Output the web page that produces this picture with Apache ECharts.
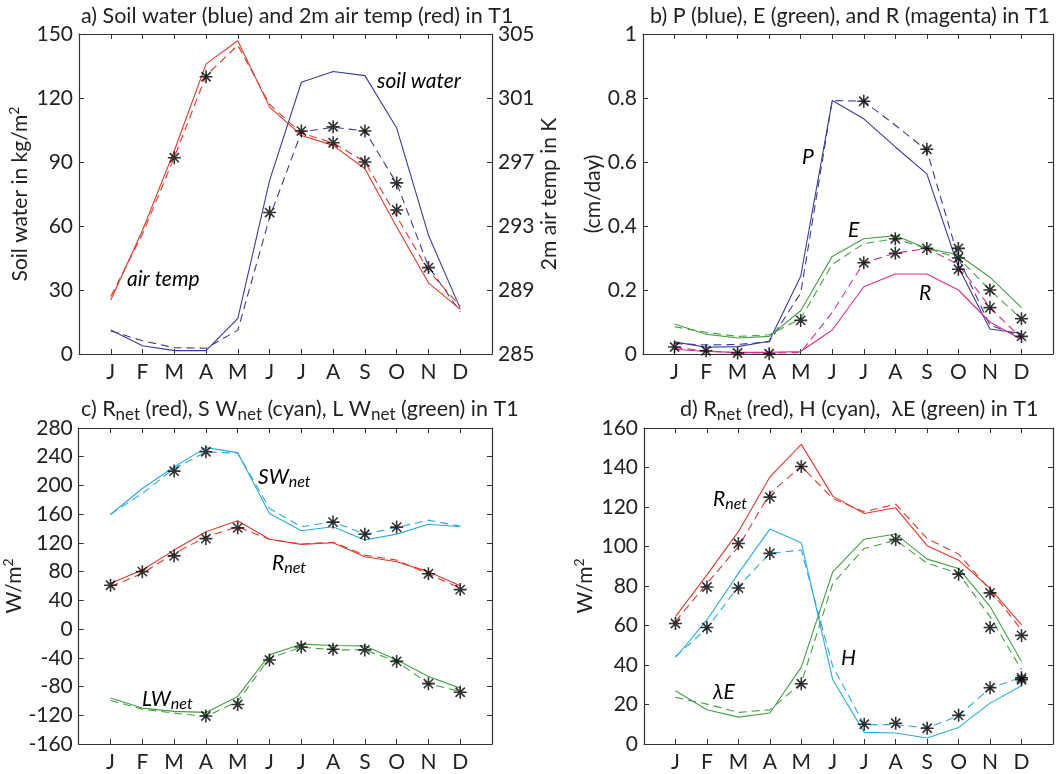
<!DOCTYPE html>
<html>
<head>
<meta charset="utf-8">
<script src="https://cdn.jsdelivr.net/npm/echarts@6/dist/echarts.min.js"></script>
<style>
  html, body { margin: 0; padding: 0; background: #fff; }
  #chart { width: 1056px; height: 774px; }
</style>
</head>
<body>
<div id="chart"></div>
<script>
const months = ['J', 'F', 'M', 'A', 'M', 'J', 'J', 'A', 'S', 'O', 'N', 'D'];

// a) soil water (kg/m2, left axis) and 2m air temp (K, right axis)
const soilSolid = [11.2, 3.9, 1.6, 1.6, 16.7, 81.4, 127.4, 132.4, 130.5, 105.9, 55.7, 21.4];
const soilDashed = [10.8, 6.2, 3.0, 2.7, 11.2, 64, 104, 106.3, 104.5, 80, 41, 19.8];
const soilStars = [null, null, null, null, null, 66.3, 104.5, 106.5, 104.5, 80.2, null, null];
const tempSolid = [288.37, 292.73, 297.7, 303.13, 304.58, 300.43, 298.66, 298.04, 296.58, 292.94, 289.45, 287.79];
const tempDashed = [288.6, 292.5, 297.3, 302.4, 304.3, 300.6, 298.8, 298.2, 297.0, 293.6, 290.2, 288.0];
const tempStars = [null, null, 297.27, 302.33, null, null, null, 298.2, 297.0, 294.0, 290.4, null];
const soilTicks = [0, 30, 60, 90, 120, 150];
const tempTicks = [285, 289, 293, 297, 301, 305];

// b) P, E, R in cm/day
const pSolid = [0.038, 0.021, 0.023, 0.04, 0.243, 0.792, 0.735, 0.647, 0.563, 0.272, 0.078, 0.064];
const pDashed = [0.033, 0.028, 0.030, 0.038, 0.19, 0.792, 0.79, 0.715, 0.636, 0.30, 0.09, 0.055];
const eSolid = [0.094, 0.062, 0.05, 0.055, 0.135, 0.305, 0.36, 0.37, 0.33, 0.31, 0.24, 0.145];
const eDashed = [0.085, 0.068, 0.055, 0.06, 0.11, 0.28, 0.345, 0.36, 0.33, 0.30, 0.20, 0.11];
const rSolid = [0.015, 0.008, 0.005, 0.005, 0.008, 0.075, 0.21, 0.25, 0.25, 0.20, 0.10, 0.045];
const rDashed = [0.02, 0.01, 0.003, 0.003, 0.005, 0.13, 0.285, 0.315, 0.33, 0.28, 0.145, 0.05];
const pStars = [0.022, 0.01, 0.003, 0.001, 0.105, null, 0.79, null, 0.64, 0.265, null, 0.055];
const eStars = [null, null, null, null, null, null, null, 0.36, 0.33, 0.33, 0.2, 0.11];
const rStars = [null, null, null, null, null, null, 0.285, 0.315, null, 0.30, 0.145, null];
const precipTicks = [0, 0.2, 0.4, 0.6, 0.8, 1];

// c) Rnet, SWnet, LWnet in W/m2
const swSolid = [159.6, 195.7, 225.8, 252.7, 245.7, 161, 136.9, 142.4, 124, 132.2, 146, 142.4];
const swDashed = [160, 188.8, 223.5, 246.7, 245, 168, 142.4, 149.4, 132.2, 141.5, 151.7, 143.4];
const swStars = [null, null, 220, 247, null, null, null, 149, 132, 142, null, null];
const rnetSolidC = [63.7, 82.2, 110, 135.5, 150.8, 125, 118, 120.2, 100.7, 93.8, 80, 60.5];
const rnetDashedC = [59, 77.6, 105.4, 128.5, 142.4, 125, 118.4, 121, 103, 96, 76.7, 57];
const rnetStarsC = [61, 80, 102, 126, 141, null, null, null, null, null, 77, 55];
const lwSolid = [-96, -110, -114.6, -116, -93.8, -35.9, -21, -22.9, -23.4, -42.8, -66, -82.2];
const lwDashed = [-99.3, -111.4, -117, -121.6, -100.7, -40.5, -25.2, -28.9, -29, -45, -76, -86.8];
const lwStars = [null, null, null, -121, -105, -43, -25, -28, -29, -45, -76, -88];
const radTicks = [-160, -120, -80, -40, 0, 40, 80, 120, 160, 200, 240, 280];

// d) Rnet, H, lambda E in W/m2
const rnetSolidD = [64.5, 85.6, 107.5, 135.2, 151.7, 125.5, 116.7, 119.6, 100.4, 93.1, 78.8, 60.3];
const rnetDashedD = [62, 81.3, 99.9, 126.8, 140.6, 124.3, 117.6, 121.4, 104, 96.2, 78, 57.8];
const rnetStarsD = [61, 79.5, 101.5, 125, 140.5, null, null, null, null, null, 76.5, 55];
const hSolid = [43.8, 62.8, 86.4, 108.8, 101.9, 32.5, 5.9, 5.6, 3, 8.4, 20.7, 29.5];
const hDashed = [44.3, 58.6, 79.7, 96.5, 98.2, 39.2, 9.8, 9.8, 8.1, 14.3, 28.3, 33.7];
const hStars = [null, 59, 79, 96.5, null, null, 10, 10.5, 8, 14.5, 28.5, 33.5];
const leSolid = [27, 17.3, 13.6, 15.7, 38.9, 87.2, 103.7, 106.3, 93.6, 88.9, 69.6, 41.8];
const leDashed = [23.6, 20.2, 16, 17.3, 30.8, 81.3, 99, 103.2, 91.5, 86.4, 64.5, 37.6];
const leStars = [null, null, null, null, 30.5, null, null, 103.5, null, 86, 59, 32.5];
const fluxTicks = [0, 20, 40, 60, 80, 100, 120, 140, 160];

const BLUE = '#3a3d98';
const RED = '#dd3a2e';
const GREEN = '#46a046';
const CYAN = '#2ea8df';
const MAGENTA = '#d8308f';
const AXIS = '#333';
const FONT = 'Lato';
const TXT = '#222';
const FS = 21;

const STAR = 'path://M0,-10L0,10M-10,0L10,0M-7.1,-7.1L7.1,7.1M-7.1,7.1L7.1,-7.1';

function pts(vals) {
  return vals.map((v, i) => (v == null ? null : [i + 1, v])).filter(Boolean);
}

function line(vals, color, dashed, axis) {
  return {
    type: 'line',
    xAxisIndex: axis[0],
    yAxisIndex: axis[1],
    data: pts(vals),
    symbol: 'none',
    silent: true,
    lineStyle: { color: color, width: 1.1, type: dashed ? [8, 5] : 'solid' },
    z: 3
  };
}

function stars(vals, axis) {
  return {
    type: 'scatter',
    xAxisIndex: axis[0],
    yAxisIndex: axis[1],
    data: pts(vals),
    symbol: STAR,
    symbolSize: 13,
    symbolKeepAspect: true,
    silent: true,
    itemStyle: { color: '#000', borderColor: '#000', borderWidth: 1.6 },
    z: 5
  };
}

const grids = [
  { left: 79, top: 34, width: 413, height: 320 },
  { left: 643, top: 34, width: 413, height: 320 },
  { left: 78, top: 428, width: 414, height: 316 },
  { left: 644, top: 428, width: 413, height: 316 }
];

const xAxes = [];
grids.forEach((g, gi) => {
  ['bottom', 'top'].forEach((pos) => {
    xAxes.push({
      type: 'value',
      gridIndex: gi,
      position: pos,
      min: 0,
      max: 13,
      interval: 1,
      axisLine: { show: true, onZero: false, lineStyle: { color: AXIS, width: 1.2 } },
      axisTick: { show: true, inside: true, length: 5, lineStyle: { color: AXIS } },
      splitLine: { show: false },
      axisLabel: {
        show: pos === 'bottom',
        margin: 8,
        fontSize: FS,
        fontFamily: FONT,
        color: TXT,
        formatter: (v) => months[v - 1] || ''
      }
    });
  });
});

const nameRich = {
  n: { fontSize: FS, fontFamily: FONT, color: TXT },
  sup: { fontSize: 14, fontFamily: FONT, color: TXT, padding: [0, 0, 12, 0] }
};

function yAxis(gi, pos, ticks, labels, name, nameGap, fmt) {
  return {
    type: 'value',
    gridIndex: gi,
    position: pos,
    min: ticks[0],
    max: ticks[ticks.length - 1],
    interval: ticks[1] - ticks[0],
    name: name,
    nameLocation: 'middle',
    nameGap: nameGap,
    nameRotate: 90,
    nameTextStyle: { fontSize: FS, fontFamily: FONT, color: TXT, rich: nameRich },
    axisLine: { show: true, onZero: false, lineStyle: { color: AXIS, width: 1.2 } },
    axisTick: { show: true, inside: true, length: 5, lineStyle: { color: AXIS } },
    splitLine: { show: false },
    axisLabel: { show: labels, margin: 6, fontSize: FS, fontFamily: FONT, color: TXT, formatter: fmt }
  };
}

const yAxes = [
  yAxis(0, 'left', soilTicks, true, '{n|Soil water in kg/m}{sup|2}', 46),
  yAxis(0, 'right', tempTicks, true, '{n|2m air temp in K}', 46),
  yAxis(1, 'left', precipTicks, true, '{n|(cm/day)}', 38, (v) => String(+v.toFixed(1))),
  yAxis(1, 'right', precipTicks, false, ''),
  yAxis(2, 'left', radTicks, true, '{n|W/m}{sup|2}', 47),
  yAxis(2, 'right', radTicks, false, ''),
  yAxis(3, 'left', fluxTicks, true, '{n|W/m}{sup|2}', 46),
  yAxis(3, 'right', fluxTicks, false, '')
];

const series = [
  // a
  line(soilSolid, BLUE, false, [0, 0]),
  line(soilDashed, BLUE, true, [0, 0]),
  line(tempSolid, RED, false, [0, 1]),
  line(tempDashed, RED, true, [0, 1]),
  stars(soilStars, [0, 0]),
  stars(tempStars, [0, 1]),
  // b
  line(pSolid, BLUE, false, [2, 2]),
  line(pDashed, BLUE, true, [2, 2]),
  line(eSolid, GREEN, false, [2, 2]),
  line(eDashed, GREEN, true, [2, 2]),
  line(rSolid, MAGENTA, false, [2, 2]),
  line(rDashed, MAGENTA, true, [2, 2]),
  stars(pStars, [2, 2]),
  stars(eStars, [2, 2]),
  stars(rStars, [2, 2]),
  // c
  line(swSolid, CYAN, false, [4, 4]),
  line(swDashed, CYAN, true, [4, 4]),
  line(rnetSolidC, RED, false, [4, 4]),
  line(rnetDashedC, RED, true, [4, 4]),
  line(lwSolid, GREEN, false, [4, 4]),
  line(lwDashed, GREEN, true, [4, 4]),
  stars(swStars, [4, 4]),
  stars(rnetStarsC, [4, 4]),
  stars(lwStars, [4, 4]),
  // d
  line(rnetSolidD, RED, false, [6, 6]),
  line(rnetDashedD, RED, true, [6, 6]),
  line(hSolid, CYAN, false, [6, 6]),
  line(hDashed, CYAN, true, [6, 6]),
  line(leSolid, GREEN, false, [6, 6]),
  line(leDashed, GREEN, true, [6, 6]),
  stars(rnetStarsD, [6, 6]),
  stars(hStars, [6, 6]),
  stars(leStars, [6, 6])
];

const titleRich = {
  n: { fontSize: 21.5, fontWeight: 'normal', fontFamily: FONT, color: TXT },
  s: { fontSize: 17, fontWeight: 'normal', fontFamily: FONT, color: TXT, padding: [10, 0, 0, 0] }
};

const titles = [
  { left: 81, top: 5, text: '{n|a) Soil water (blue) and 2m air temp (red) in T1}' },
  { left: 650, top: 5, text: '{n|b) P (blue), E (green), and R (magenta) in T1}' },
  { left: 81, top: 396, text: '{n|c) R}{s|net}{n| (red), S W}{s|net}{n| (cyan), L W}{s|net}{n| (green) in T1}' },
  { left: 680, top: 396, text: '{n|d) R}{s|net}{n| (red), H (cyan),  \u03bbE (green) in T1}' }
].map((t) => ({
  left: t.left,
  top: t.top,
  text: t.text,
  padding: 0,
  textStyle: { fontWeight: 'normal', rich: titleRich }
}));

const noteRich = {
  i: { fontSize: FS, fontFamily: FONT, fontStyle: 'italic', color: TXT },
  s: { fontSize: 16, fontFamily: FONT, fontStyle: 'italic', color: TXT, padding: [10, 0, 0, 0] }
};

function note(x, y, text) {
  return {
    type: 'text',
    x: x,
    y: y,
    silent: true,
    style: { text: text, rich: noteRich, textVerticalAlign: 'middle', textAlign: 'left' }
  };
}

const chart = echarts.init(document.getElementById('chart'), null, { renderer: 'canvas' });
chart.setOption({
  animation: false,
  backgroundColor: '#fff',
  title: titles,
  grid: grids,
  xAxis: xAxes,
  yAxis: yAxes,
  series: series,
  graphic: [
    note(377, 81, '{i|soil water}'),
    note(127, 279, '{i|air temp}'),
    note(802, 157, '{i|P}'),
    note(848, 230, '{i|E}'),
    note(919, 293, '{i|R}'),
    note(258, 477, '{i|SW}{s|net}'),
    note(272, 563, '{i|R}{s|net}'),
    note(142, 699, '{i|LW}{s|net}'),
    note(713, 499, '{i|R}{s|net}'),
    note(841, 658, '{i|H}'),
    note(713, 692, '{i|\u03bbE}')
  ]
});
</script>
</body>
</html>
